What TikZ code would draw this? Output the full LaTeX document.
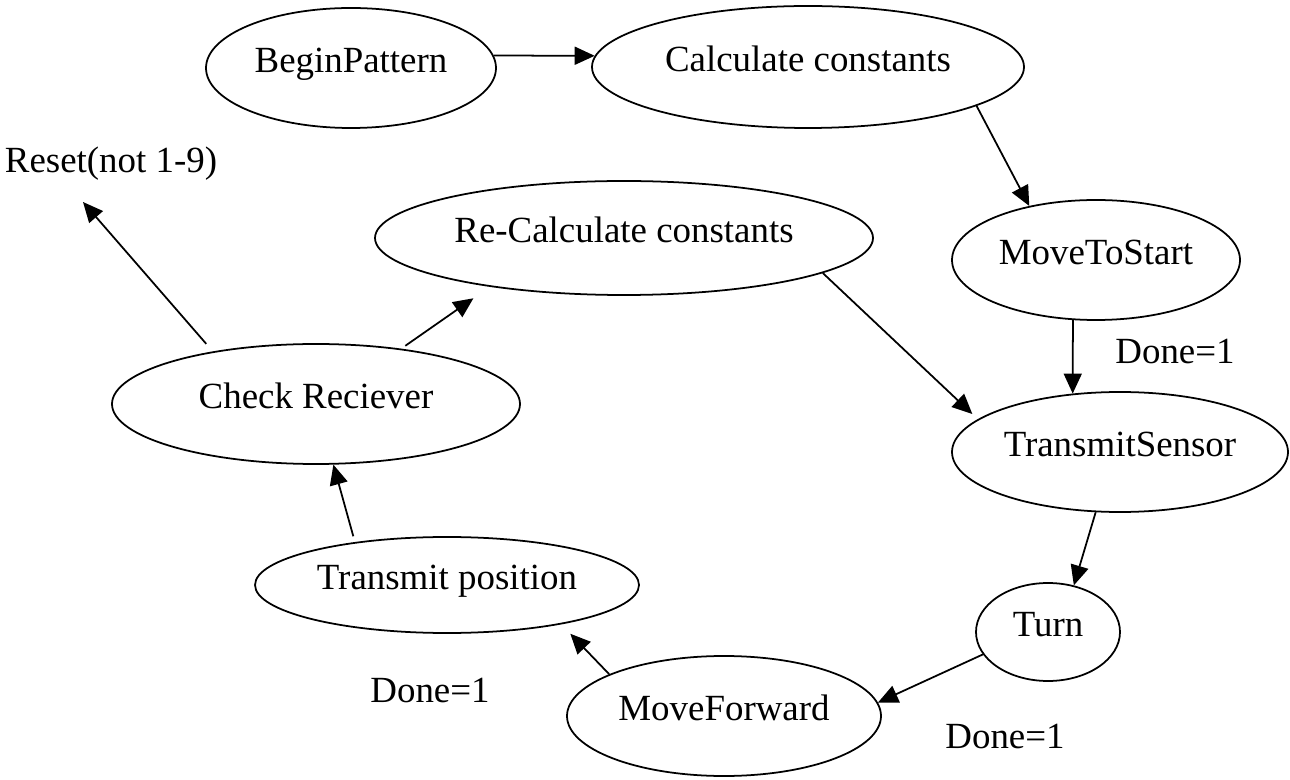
\documentclass[tikz,border=0pt]{standalone}
\usepackage{fontspec}
\setmainfont{Liberation Serif}
\usetikzlibrary{shapes.geometric,arrows.meta}
\tikzset{
  state/.style={ellipse, draw=black, line width=1pt, inner sep=0pt, font=\fontsize{21}{25}\selectfont, text height=0.7em, text depth=0.22em},
  cond/.style={inner sep=0pt, anchor=base, font=\fontsize{21}{25}\selectfont},
  trans/.style={line width=1pt, draw=black, -{Triangle[length=0.4cm,width=0.36cm]}},
}
\begin{document}
\begin{tikzpicture}
\useasboundingbox (0,0) rectangle (25.8,15.58);
\node[state, minimum width=5.80cm, minimum height=2.40cm] (bp) at (7.02,14.22) {BeginPattern};
\node[state, minimum width=8.64cm, minimum height=2.44cm] (cc) at (16.16,14.24) {Calculate constants};
\node[state, minimum width=5.76cm, minimum height=2.40cm] (ms) at (21.92,10.38) {MoveToStart};
\node[state, minimum width=9.96cm, minimum height=2.28cm] (rc) at (12.48,10.82) {Re-Calculate constants};
\node[state, minimum width=8.16cm, minimum height=2.40cm] (cr) at (6.32,7.50) {Check Reciever};
\node[state, minimum width=6.72cm, minimum height=2.40cm] (ts) at (22.40,6.54) {TransmitSensor};
\node[state, minimum width=2.88cm, minimum height=1.96cm] (turn) at (20.96,2.94) {Turn};
\node[state, minimum width=7.68cm, minimum height=1.92cm] (tp) at (8.94,3.88) {Transmit position};
\node[state, minimum width=6.28cm, minimum height=2.40cm] (mf) at (14.48,1.26) {MoveForward};
\node[cond] (reset) at (2.22,12.12) {Reset(not 1-9)};
\node[cond] (done1) at (23.50,8.30) {Done=1};
\node[cond] (done2) at (8.60,1.54) {Done=1};
\node[cond] (done3) at (20.10,0.62) {Done=1};
\coordinate (resetpt) at (1.66,11.54);
\draw[trans] (bp.5) -- (cc.177);
\draw[trans] (cc.-13) -- (ms.141);
\draw[trans] (ms.-111) -- (ts.129);
\draw[trans, shorten >=0.15cm] (rc.-10) -- (ts.167);
\draw[trans] (ts.-112) -- (turn.61);
\draw[trans] (turn.-161) -- (mf.5);
\draw[trans, shorten >=0.26cm] (mf.160) -- (tp.-19);
\draw[trans, shorten <=0.12cm] (tp.155) -- (cr.-74);
\draw[trans, shorten <=0.1cm, shorten >=0.4cm] (cr.33) -- (rc.-160);
\draw[trans, shorten <=0.2cm] (cr.153) -- (resetpt);
\end{tikzpicture}
\end{document}
